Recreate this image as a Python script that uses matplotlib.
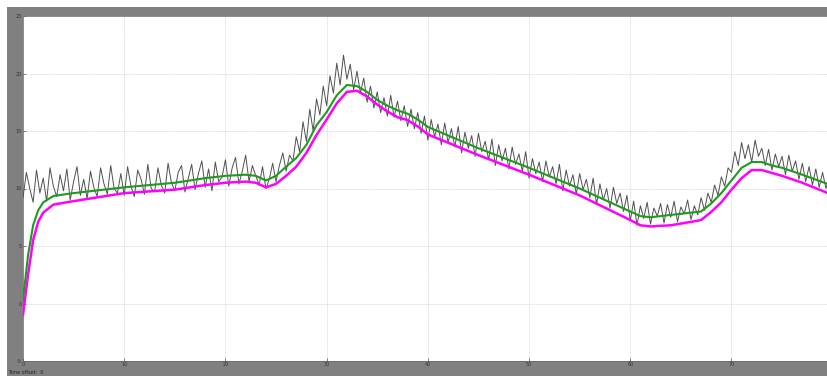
import numpy as np
import matplotlib
matplotlib.use("Agg")
import matplotlib.pyplot as plt

# ---------------- data ----------------
x_ticks = [0, 10, 20, 30, 40, 50, 60, 70]
y_ticks = [-5, 0, 5, 10, 15, 20, 25]

measured = [
    9.2, 11.4, 10.0, 8.8, 11.6, 9.6, 10.9, 8.9, 11.8, 10.2,
    9.3, 11.2, 9.8, 11.7, 9.0, 10.6, 11.9, 9.4, 10.8, 9.1,
    11.5, 10.1, 9.3, 11.8, 10.4, 9.5, 12.0, 10.0, 9.6, 11.3,
    9.4, 11.9, 10.2, 9.3, 11.6, 10.8, 9.5, 12.1, 10.0, 9.7,
    11.8, 10.3, 9.6, 12.2, 10.5, 9.8, 11.4, 12.0, 9.7, 10.9,
    12.1, 9.9, 11.3, 12.4, 10.1, 11.7, 9.8, 12.3, 10.6, 11.0,
    12.5, 10.2, 11.8, 12.7, 10.4, 11.5, 12.9, 10.6, 12.0, 11.1,
    10.3, 11.9, 10.0, 10.8, 12.2, 10.6, 12.0, 13.1, 11.5, 12.9,
    12.4, 14.5, 13.2, 15.8, 14.1, 16.9, 15.0, 17.8, 16.4, 18.9,
    17.2, 19.8, 18.3, 20.9, 19.0, 21.6, 19.5, 20.8, 18.6, 20.2,
    18.3, 19.6, 17.5, 18.9, 17.0, 18.4, 16.6, 17.9, 16.3, 18.1,
    16.2, 17.6, 15.9, 17.2, 15.4, 16.9, 15.2, 16.6, 14.8, 16.3,
    14.2, 16.0, 14.5, 15.6, 13.8, 15.7, 14.0, 15.2, 13.6, 15.4,
    13.1, 14.9, 13.5, 14.6, 12.8, 14.8, 13.2, 14.1, 12.5, 14.3,
    12.0, 13.8, 12.4, 13.5, 11.7, 13.6, 12.1, 13.0, 11.5, 13.2,
    10.9, 12.6, 11.3, 12.3, 10.6, 12.4, 11.0, 11.9, 10.4, 12.1,
    9.8, 11.6, 10.2, 11.2, 9.5, 11.3, 9.9, 10.8, 9.2, 10.9,
    8.6, 10.4, 9.0, 10.0, 8.3, 10.1, 8.7, 9.6, 8.0, 9.4,
    7.2, 8.9, 6.8, 8.5, 7.4, 8.8, 6.9, 8.3, 7.6, 8.7,
    7.0, 8.6, 7.5, 8.9, 7.1, 8.4, 7.8, 9.0, 7.3, 8.5,
    7.7, 9.2, 8.1, 9.6, 8.8, 10.3, 9.4, 11.0, 10.2, 11.8,
    11.4, 13.2, 12.0, 14.0, 12.6, 13.8, 12.3, 14.2, 12.8, 13.5,
    12.0, 13.4, 11.6, 13.0, 11.9, 12.8, 11.2, 12.9, 11.5, 12.4,
    10.8, 12.2, 10.6, 11.9, 10.3, 11.7, 10.1, 11.4, 10.0, 11.1,
]
t_measured = np.arange(len(measured)) / 3.0

t_green = [0, 0.5, 1, 1.5, 2, 3, 5, 10, 15, 18, 20, 22, 23, 24, 25, 26, 27, 28,
           29, 30, 31, 32, 33, 34, 35, 36, 37, 38, 39, 40, 45, 50, 55, 60, 61,
           62, 64, 66, 67, 68, 69, 70, 71, 72, 73, 74, 75, 77, 79.8]
green = [0.3, 4.2, 6.8, 8.1, 8.8, 9.35, 9.6, 10.1, 10.5, 10.9, 11.1, 11.2, 11.1,
         10.7, 11.1, 11.9, 12.65, 13.8, 15.5, 16.65, 18.1, 19.0, 18.9, 18.4,
         17.7, 17.2, 16.8, 16.5, 16.0, 15.35, 13.5, 11.8, 10.0, 8.0, 7.6, 7.5,
         7.7, 7.9, 8.0, 8.7, 9.6, 10.7, 11.8, 12.3, 12.3, 12.0, 11.8, 11.2, 10.3]

t_magenta = t_green
magenta = [-1.0, 2.5, 5.5, 7.1, 7.9, 8.6, 8.9, 9.6, 9.9, 10.3, 10.5, 10.6, 10.5,
           10.1, 10.4, 11.1, 11.9, 13.1, 14.65, 16.0, 17.4, 18.4, 18.5, 18.0,
           17.3, 16.7, 16.2, 15.95, 15.4, 14.7, 12.9, 11.2, 9.4, 7.26, 6.8, 6.7,
           6.8, 7.1, 7.26, 7.96, 8.8, 9.9, 10.9, 11.6, 11.6, 11.35, 11.1, 10.5, 9.5]

# ---------------- figure ----------------
W, H = 828, 376
fig = plt.figure(figsize=(W / 100, H / 100), dpi=100, facecolor="white")
gray = "#808080"

bg = fig.add_axes([7 / W, 0, 1 - 7 / W, (H - 7) / H], zorder=-5)
bg.set_facecolor(gray)
bg.set_xticks([])
bg.set_yticks([])
for s in bg.spines.values():
    s.set_visible(False)

ax = fig.add_axes([23 / W, 15 / H, 1 - 23 / W + 0.002, (361 - 16) / H], zorder=1)
ax.set_facecolor("white")
ax.set_xlim(0, 79.7)
ax.set_ylim(-5, 25)
ax.set_xticks(x_ticks)
ax.set_yticks(y_ticks)
ax.set_xticklabels([str(v) for v in x_ticks], fontsize=3.5, color="#333333")
ax.set_yticklabels([str(v) for v in y_ticks], fontsize=3.5, color="#333333")
ax.tick_params(direction="in", length=2, width=0.5, color="#555555", pad=1)
ax.grid(True, color="#dcdcdc", linewidth=0.6, linestyle=(0, (2, 1)))
for s in ax.spines.values():
    s.set_color("#666666")
    s.set_linewidth(0.5)

ax.plot(t_measured, measured, color="#505050", linewidth=0.7, zorder=3)
ax.plot(t_magenta, magenta, color="#ff00ff", linewidth=1.8, zorder=4)
ax.plot(t_green, green, color="#1e9a1e", linewidth=1.5, zorder=5)

fig.text(8 / W, 2 / H, "Time offset:  0", fontsize=3.5, color="#222222")

fig.savefig("out.png", dpi=100, facecolor=fig.get_facecolor())
